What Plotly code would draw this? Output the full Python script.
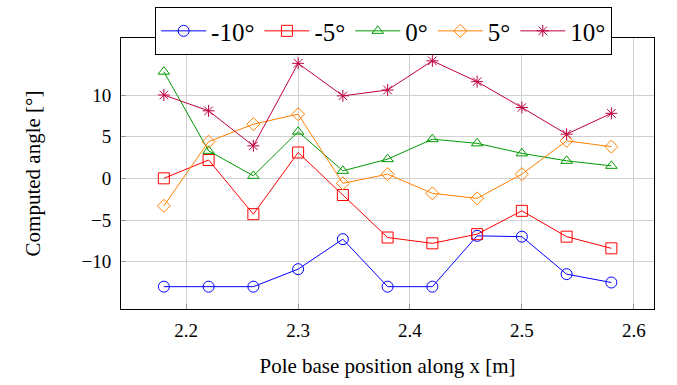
import plotly.graph_objects as go

x = [2.18, 2.22, 2.26, 2.30, 2.34, 2.38, 2.42, 2.46, 2.50, 2.54, 2.58]
s_m10 = [-13.0, -13.0, -13.0, -10.9, -7.3, -13.0, -13.0, -6.9, -7.0, -11.5, -12.5]
s_m5 = [0.0, 2.2, -4.3, 3.1, -2.0, -7.1, -7.8, -6.7, -3.9, -7.0, -8.4]
s_0 = [12.8, 3.3, 0.3, 5.6, 0.9, 2.3, 4.7, 4.2, 3.0, 2.1, 1.5]
s_5 = [-3.3, 4.4, 6.5, 7.7, -0.6, 0.5, -1.8, -2.4, 0.5, 4.5, 3.8]
s_10 = [10.0, 8.1, 3.9, 13.8, 9.9, 10.6, 14.1, 11.6, 8.5, 5.3, 7.8]

names = ["-10°", "-5°", "0°", "5°", "10°"]
colors = ["#0000ff", "#ff0000", "#009900", "#ff8000", "#bf0040"]
symbols = ["circle-open", "square-open", "triangle-up-open", "diamond-open", "asterisk-open"]
sizes = [11, 11, 10, 10, 10]
series = [s_m10, s_m5, s_0, s_5, s_10]

fig = go.Figure()
for name, col, sym, sz, ys in zip(names, colors, symbols, sizes, series):
    fig.add_trace(go.Scatter(
        x=x, y=ys, name=name, mode="lines+markers",
        line=dict(color=col, width=1),
        marker=dict(symbol=sym, size=sz, color=col, line=dict(color=col, width=1)),
    ))

font = "Liberation Serif"
fig.update_layout(
    width=677, height=385,
    margin=dict(l=121, r=23, t=38, b=76, autoexpand=False),
    plot_bgcolor="white", paper_bgcolor="white",
    font=dict(family=font, size=18, color="black"),
    showlegend=True,
    legend=dict(
        orientation="h", x=0.064, y=1.114, xanchor="left", yanchor="top",
        font=dict(size=25, family=font, color="black"), bordercolor="black", borderwidth=1,
        bgcolor="white", itemwidth=45, tracegroupgap=0,
    ),
    xaxis=dict(
        range=[2.1417, 2.6181], tickvals=[2.2, 2.3, 2.4, 2.5, 2.6],
        ticktext=["2.2", "2.3", "2.4", "2.5", "2.6"],
        showgrid=True, gridcolor="#d0d0d0", gridwidth=1,
        showline=True, linecolor="black", linewidth=1, mirror=True,
        ticks="inside", ticklen=5, tickcolor="#999999",
        zeroline=False, ticklabelstandoff=4,
        title=dict(text="Pole base position along x [m]", font=dict(size=21, family=font), standoff=18),
        tickfont=dict(size=19, family=font, color="black"),
    ),
    yaxis=dict(
        range=[-15.68, 16.84], tickvals=[-10, -5, 0, 5, 10],
        showgrid=True, gridcolor="#d0d0d0", gridwidth=1,
        showline=True, linecolor="black", linewidth=1, mirror=True,
        ticks="inside", ticklen=5, tickcolor="#999999",
        zeroline=False, ticklabelstandoff=5,
        title=dict(text="Computed angle [°]", font=dict(size=21, family=font), standoff=35),
        tickfont=dict(size=19, family=font, color="black"),
    ),
)

fig.write_html("out.html")
